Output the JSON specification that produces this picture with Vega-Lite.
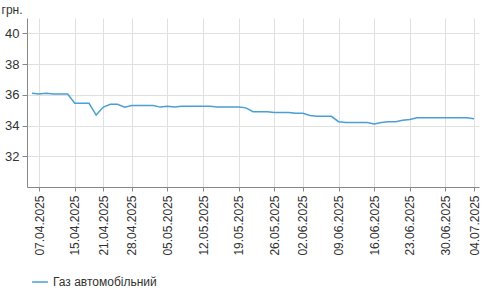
{
  "$schema": "https://vega.github.io/schema/vega-lite/v6.json",
  "autosize": "none",
  "width": 452,
  "height": 169,
  "padding": {"left": 27, "top": 18, "right": 11, "bottom": 110},
  "background": "white",
  "config": {
    "font": "Liberation Sans",
    "view": {"stroke": null}
  },
  "data": {
    "values": [
      {"date": "04.04.2025", "price": 36.1, "fuel": "Газ автомобільний"},
      {"date": "07.04.2025", "price": 36.05, "fuel": "Газ автомобільний"},
      {"date": "08.04.2025", "price": 36.1, "fuel": "Газ автомобільний"},
      {"date": "09.04.2025", "price": 36.05, "fuel": "Газ автомобільний"},
      {"date": "10.04.2025", "price": 36.05, "fuel": "Газ автомобільний"},
      {"date": "11.04.2025", "price": 36.05, "fuel": "Газ автомобільний"},
      {"date": "15.04.2025", "price": 35.45, "fuel": "Газ автомобільний"},
      {"date": "16.04.2025", "price": 35.45, "fuel": "Газ автомобільний"},
      {"date": "17.04.2025", "price": 35.45, "fuel": "Газ автомобільний"},
      {"date": "18.04.2025", "price": 34.68, "fuel": "Газ автомобільний"},
      {"date": "21.04.2025", "price": 35.2, "fuel": "Газ автомобільний"},
      {"date": "22.04.2025", "price": 35.38, "fuel": "Газ автомобільний"},
      {"date": "23.04.2025", "price": 35.38, "fuel": "Газ автомобільний"},
      {"date": "24.04.2025", "price": 35.2, "fuel": "Газ автомобільний"},
      {"date": "28.04.2025", "price": 35.3, "fuel": "Газ автомобільний"},
      {"date": "29.04.2025", "price": 35.3, "fuel": "Газ автомобільний"},
      {"date": "30.04.2025", "price": 35.3, "fuel": "Газ автомобільний"},
      {"date": "01.05.2025", "price": 35.3, "fuel": "Газ автомобільний"},
      {"date": "02.05.2025", "price": 35.2, "fuel": "Газ автомобільний"},
      {"date": "05.05.2025", "price": 35.25, "fuel": "Газ автомобільний"},
      {"date": "06.05.2025", "price": 35.2, "fuel": "Газ автомобільний"},
      {"date": "07.05.2025", "price": 35.25, "fuel": "Газ автомобільний"},
      {"date": "08.05.2025", "price": 35.25, "fuel": "Газ автомобільний"},
      {"date": "09.05.2025", "price": 35.25, "fuel": "Газ автомобільний"},
      {"date": "12.05.2025", "price": 35.25, "fuel": "Газ автомобільний"},
      {"date": "13.05.2025", "price": 35.25, "fuel": "Газ автомобільний"},
      {"date": "14.05.2025", "price": 35.2, "fuel": "Газ автомобільний"},
      {"date": "15.05.2025", "price": 35.2, "fuel": "Газ автомобільний"},
      {"date": "16.05.2025", "price": 35.2, "fuel": "Газ автомобільний"},
      {"date": "19.05.2025", "price": 35.2, "fuel": "Газ автомобільний"},
      {"date": "20.05.2025", "price": 35.15, "fuel": "Газ автомобільний"},
      {"date": "21.05.2025", "price": 34.9, "fuel": "Газ автомобільний"},
      {"date": "22.05.2025", "price": 34.9, "fuel": "Газ автомобільний"},
      {"date": "23.05.2025", "price": 34.9, "fuel": "Газ автомобільний"},
      {"date": "26.05.2025", "price": 34.85, "fuel": "Газ автомобільний"},
      {"date": "27.05.2025", "price": 34.85, "fuel": "Газ автомобільний"},
      {"date": "28.05.2025", "price": 34.85, "fuel": "Газ автомобільний"},
      {"date": "29.05.2025", "price": 34.8, "fuel": "Газ автомобільний"},
      {"date": "02.06.2025", "price": 34.8, "fuel": "Газ автомобільний"},
      {"date": "03.06.2025", "price": 34.65, "fuel": "Газ автомобільний"},
      {"date": "04.06.2025", "price": 34.6, "fuel": "Газ автомобільний"},
      {"date": "05.06.2025", "price": 34.6, "fuel": "Газ автомобільний"},
      {"date": "06.06.2025", "price": 34.6, "fuel": "Газ автомобільний"},
      {"date": "09.06.2025", "price": 34.25, "fuel": "Газ автомобільний"},
      {"date": "10.06.2025", "price": 34.2, "fuel": "Газ автомобільний"},
      {"date": "11.06.2025", "price": 34.2, "fuel": "Газ автомобільний"},
      {"date": "12.06.2025", "price": 34.2, "fuel": "Газ автомобільний"},
      {"date": "13.06.2025", "price": 34.2, "fuel": "Газ автомобільний"},
      {"date": "16.06.2025", "price": 34.1, "fuel": "Газ автомобільний"},
      {"date": "17.06.2025", "price": 34.2, "fuel": "Газ автомобільний"},
      {"date": "18.06.2025", "price": 34.25, "fuel": "Газ автомобільний"},
      {"date": "19.06.2025", "price": 34.25, "fuel": "Газ автомобільний"},
      {"date": "20.06.2025", "price": 34.35, "fuel": "Газ автомобільний"},
      {"date": "23.06.2025", "price": 34.4, "fuel": "Газ автомобільний"},
      {"date": "24.06.2025", "price": 34.5, "fuel": "Газ автомобільний"},
      {"date": "25.06.2025", "price": 34.5, "fuel": "Газ автомобільний"},
      {"date": "26.06.2025", "price": 34.5, "fuel": "Газ автомобільний"},
      {"date": "27.06.2025", "price": 34.5, "fuel": "Газ автомобільний"},
      {"date": "30.06.2025", "price": 34.5, "fuel": "Газ автомобільний"},
      {"date": "01.07.2025", "price": 34.5, "fuel": "Газ автомобільний"},
      {"date": "02.07.2025", "price": 34.5, "fuel": "Газ автомобільний"},
      {"date": "03.07.2025", "price": 34.5, "fuel": "Газ автомобільний"},
      {"date": "04.07.2025", "price": 34.45, "fuel": "Газ автомобільний"}
    ]
  },
  "mark": {"type": "line", "strokeWidth": 1.5},
  "encoding": {
    "x": {
      "field": "date",
      "type": "ordinal",
      "sort": null,
      "scale": {"type": "point", "padding": 0.7},
      "axis": {
        "title": null,
        "values": ["07.04.2025", "15.04.2025", "21.04.2025", "28.04.2025", "05.05.2025", "12.05.2025", "19.05.2025", "26.05.2025", "02.06.2025", "09.06.2025", "16.06.2025", "23.06.2025", "30.06.2025", "04.07.2025"],
        "labelAngle": 270,
        "labelAlign": "right",
        "labelBaseline": "middle",
        "labelFontSize": 12,
        "labelColor": "#333333",
        "labelPadding": 4,
        "tickSize": 4,
        "tickColor": "#888888",
        "domainColor": "#888888",
        "grid": true,
        "gridColor": "#e0e0e0"
      }
    },
    "y": {
      "field": "price",
      "type": "quantitative",
      "scale": {"domain": [30, 41], "nice": false, "zero": false},
      "axis": {
        "title": "грн.",
        "titleAngle": 0,
        "titleAlign": "left",
        "titleBaseline": "middle",
        "titleX": -26,
        "titleY": -9,
        "titleFontSize": 12,
        "titleFontWeight": "normal",
        "titleColor": "#333333",
        "values": [32, 34, 36, 38, 40],
        "labelFontSize": 13,
        "labelColor": "#333333",
        "labelPadding": 3,
        "tickSize": 5,
        "tickColor": "#888888",
        "domainColor": "#888888",
        "gridColor": "#e0e0e0"
      }
    },
    "color": {
      "field": "fuel",
      "type": "nominal",
      "scale": {"range": ["#4a9fd4"]},
      "legend": {
        "title": null,
        "orient": "none",
        "legendX": 4,
        "legendY": 255,
        "symbolType": "stroke",
        "symbolSize": 250,
        "symbolStrokeWidth": 1.5,
        "labelFontSize": 12,
        "labelColor": "#333333"
      }
    }
  }
}
